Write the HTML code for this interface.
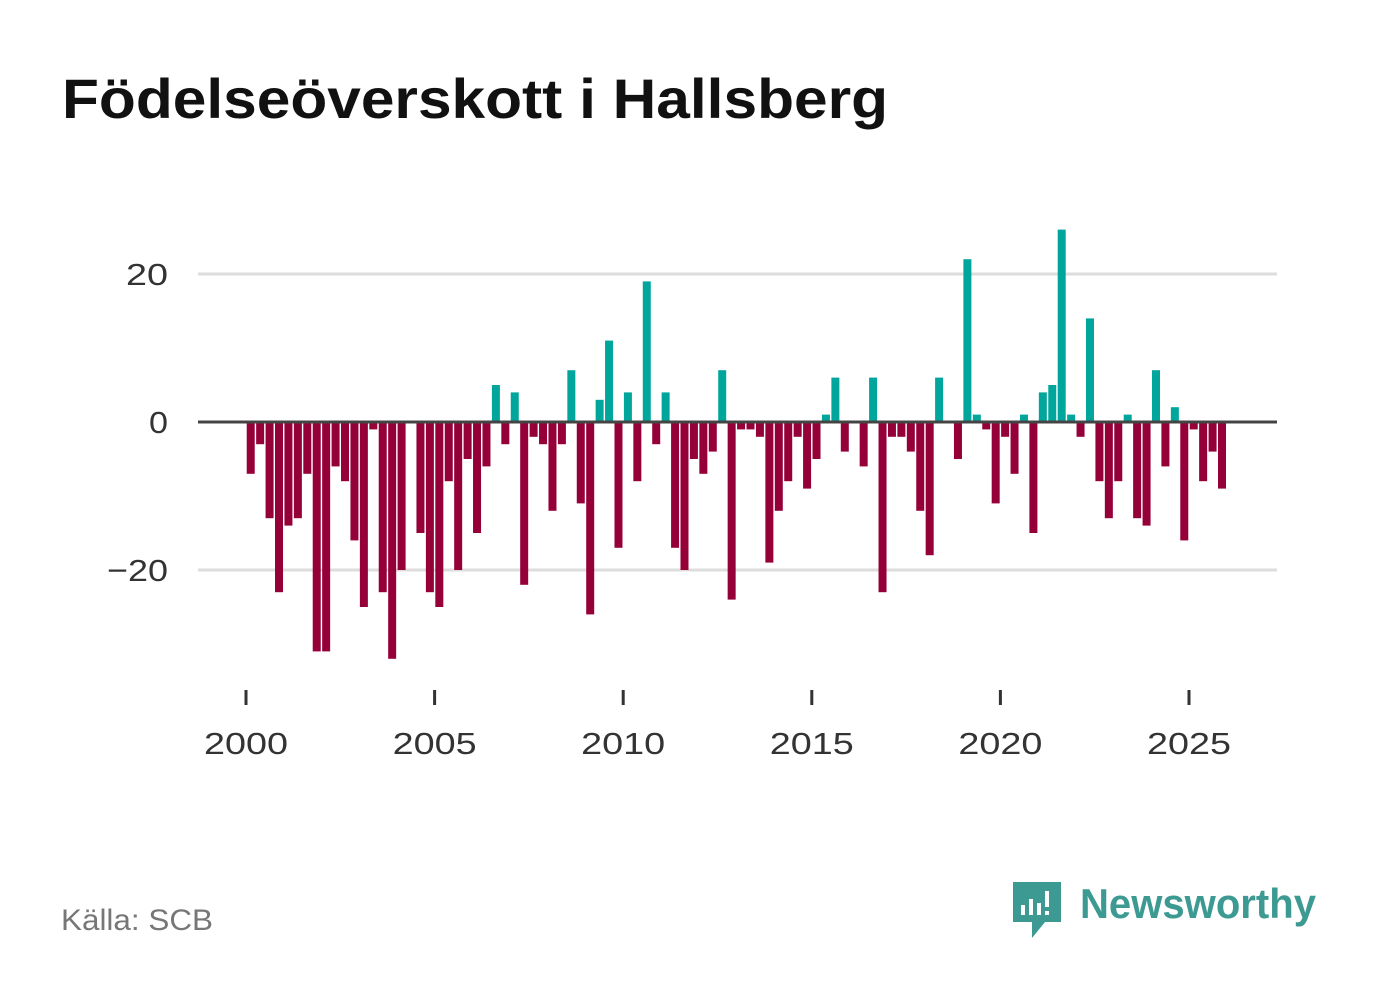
<!DOCTYPE html>
<html><head><meta charset="utf-8"><style>
body{margin:0;background:#fff;width:1382px;height:999px;overflow:hidden;font-family:"Liberation Sans","DejaVu Sans",sans-serif}
</style></head><body>
<svg width="1382" height="999" xmlns="http://www.w3.org/2000/svg">
<text x="62" y="118" font-size="56" font-weight="bold" fill="#111" textLength="826" lengthAdjust="spacingAndGlyphs">Födelseöverskott i Hallsberg</text>
<g id="grid"></g>
<g id="bars"></g>
<g id="axes"></g>
<text x="61" y="930" font-size="30" fill="#777" textLength="152" lengthAdjust="spacingAndGlyphs">Källa: SCB</text>
<g>
<path d="M1013 882 h48 v40 h-16 l-13 16 v-16 h-19 z" fill="#3d9a93"/>
<rect x="1021" y="905" width="4" height="10" fill="#fff"/>
<rect x="1029" y="899" width="4" height="16" fill="#fff"/>
<rect x="1037" y="903" width="4" height="12" fill="#fff"/>
<rect x="1045" y="891" width="4" height="16" fill="#fff"/>
<rect x="1045" y="911" width="4" height="4" fill="#fff"/>
<text x="1080" y="918" font-size="42" font-weight="bold" fill="#3d9a93" textLength="236" lengthAdjust="spacingAndGlyphs">Newsworthy</text>
</g>
</svg>
<script>
const values=[-7,-3,-13,-23,-14,-13,-7,-31,-31,-6,-8,-16,-25,-1,-23,-32,-20,0,-15,-23,-25,-8,-20,-5,-15,-6,5,-3,4,-22,-2,-3,-12,-3,7,-11,-26,3,11,-17,4,-8,19,-3,4,-17,-20,-5,-7,-4,7,-24,-1,-1,-2,-19,-12,-8,-2,-9,-5,1,6,-4,0,-6,6,-23,-2,-2,-4,-12,-18,6,0,-5,22,1,-1,-11,-2,-7,1,-15,4,5,26,1,-2,14,-8,-13,-8,1,-13,-14,7,-6,2,-16,-1,-8,-4,-9];
const startYear=2000;
const yTicks=[20,0,-20];
const yTickLabels=["20","0","−20"];
const xTicks=[2000,2005,2010,2015,2020,2025];
const NS="http://www.w3.org/2000/svg";
const yScale=v=>422-v*7.4;
const xScale=t=>246+(t-startYear)*37.72;
function mk(tag,attrs,parent){const e=document.createElementNS(NS,tag);for(const k in attrs)e.setAttribute(k,attrs[k]);parent.appendChild(e);return e;}
const grid=document.getElementById('grid'),bars=document.getElementById('bars'),axes=document.getElementById('axes');
yTicks.forEach((t,i)=>{
  if(t!==0){const l=mk('line',{x1:198,x2:1277,y1:yScale(t),y2:yScale(t),stroke:'#ddd','stroke-width':3},grid);
  
  }
  const lab=yTickLabels[i];
  const w=lab.length===1?19:(lab.length===2?42:61);
  const tx=mk('text',{x:168,y:yScale(t)+11,'font-size':31,fill:'#333','text-anchor':'end',textLength:w,lengthAdjust:'spacingAndGlyphs'},axes);
  tx.textContent=lab;
  
  
});
values.forEach((v,i)=>{
  const cx=xScale(startYear+(i+0.5)/4);
  const y0=yScale(0),y1=yScale(v);
  if(v===0)return;
  const r=mk('rect',{x:cx-4,y:Math.min(y0,y1),width:8,height:Math.abs(y1-y0),fill:v>0?'#00a69c':'#960039'},bars);
  
  
});
const z=mk('line',{x1:198,x2:1277,y1:yScale(0),y2:yScale(0),stroke:'#444','stroke-width':3},axes);


xTicks.forEach(t=>{
  const x=xScale(t);
  const l=mk('line',{x1:x,x2:x,y1:690,y2:705,stroke:'#333','stroke-width':3},axes);
  
  
  const tx=mk('text',{x:x-42,y:754,'font-size':31,fill:'#333',textLength:84,lengthAdjust:'spacingAndGlyphs'},axes);
  tx.textContent=String(t);
  
  
});
</script>
</body></html>
